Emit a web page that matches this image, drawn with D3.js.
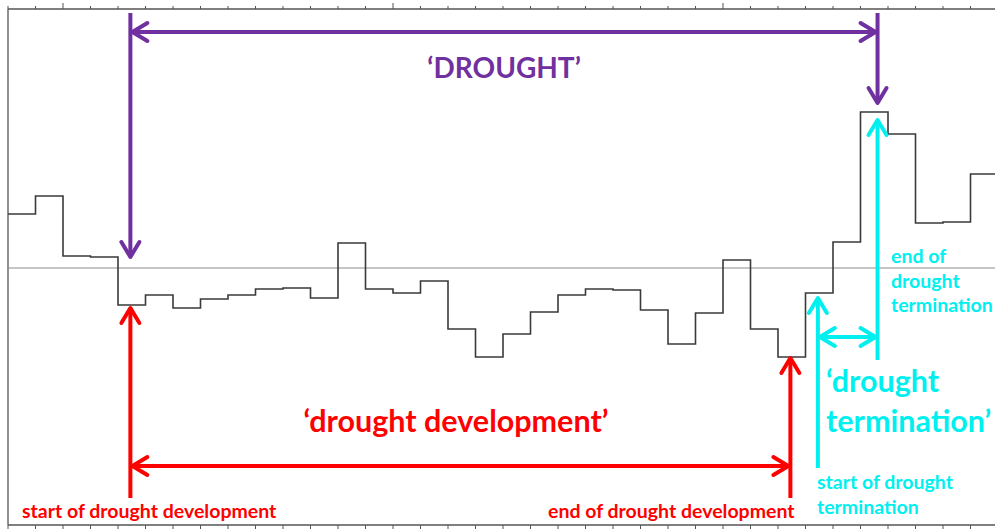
<!DOCTYPE html>
<html>
<head>
<meta charset="utf-8">
<script src="https://cdn.jsdelivr.net/npm/d3@7"></script>
<style>
  html, body { margin: 0; padding: 0; background: #fff; }
  svg { display: block; }
  text { font-family: Lato, "Open Sans", sans-serif; font-weight: bold; }
</style>
</head>
<body>
<svg id="chart" width="995" height="529"></svg>
<script>
// Monthly index values (36 months, step chart)
const months = d3.range(36);
const values = [0.54, 0.72, 0.12, 0.11, -0.37, -0.27, -0.40, -0.31, -0.27, -0.21, -0.20, -0.30,
                0.25, -0.21, -0.25, -0.13, -0.61, -0.89, -0.66, -0.44, -0.27, -0.21, -0.22, -0.42,
               -0.76, -0.45, 0.08, -0.61, -0.89, -0.25, 0.26, 1.56, 1.34, 0.45, 0.46, 0.94];
const majorTickMonths = [2, 14, 26];

// Annotation anchors (month position)
const droughtStart = 4.45, devEnd = 28.45, termStart = 29.45, droughtEnd = 31.62;

const svg = d3.select("#chart");
const x = d3.scaleLinear().domain([0, 36]).range([8, 998]);
const y = d3.scaleLinear().domain([-2.57, 2.59]).range([525, 9]);

// Frame
const frame = svg.append("g").attr("stroke", "#555").attr("stroke-width", 1.3).attr("fill", "none");
frame.append("line").attr("x1", x(0)).attr("x2", x(36)).attr("y1", y.range()[1]).attr("y2", y.range()[1]);
frame.append("line").attr("x1", x(0)).attr("x2", x(36)).attr("y1", y.range()[0]).attr("y2", y.range()[0]);
frame.append("line").attr("x1", x(0)).attr("x2", x(0)).attr("y1", y.range()[1]).attr("y2", y.range()[0]);

// Ticks (top going up, bottom going down)
const tickG = svg.append("g").attr("stroke", "#555").attr("stroke-width", 1);
d3.range(0, 37).forEach(i => {
  const len = majorTickMonths.includes(i) ? 6 : 3;
  tickG.append("line").attr("x1", x(i)).attr("x2", x(i)).attr("y1", y.range()[1]).attr("y2", y.range()[1] - len);
  tickG.append("line").attr("x1", x(i)).attr("x2", x(i)).attr("y1", y.range()[0]).attr("y2", y.range()[0] + 5);
});

// Zero line
svg.append("line").attr("x1", x(0)).attr("x2", x(36)).attr("y1", y(0)).attr("y2", y(0))
  .attr("stroke", "#8c8c8c").attr("stroke-width", 1.2);

// Step line
const stepData = months.map((m, i) => [m, values[i]]);
stepData.push([36, values[values.length - 1]]);
svg.append("path")
  .datum(stepData)
  .attr("fill", "none")
  .attr("stroke", "#3a3a3a")
  .attr("stroke-width", 1.6)
  .attr("d", d3.line().x(d => x(d[0])).y(d => y(d[1])).curve(d3.curveStepAfter));

// Arrow helpers
function seg(g, x1, y1, x2, y2, color) {
  g.append("line").attr("x1", x1).attr("y1", y1).attr("x2", x2).attr("y2", y2)
    .attr("stroke", color).attr("stroke-width", 4).attr("stroke-linecap", "butt");
}
function head(g, tx, ty, dir, color) {
  const L = 15, W = 9;
  let pts;
  if (dir === "down") pts = [[tx - W, ty - L], [tx, ty], [tx + W, ty - L]];
  if (dir === "up") pts = [[tx - W, ty + L], [tx, ty], [tx + W, ty + L]];
  if (dir === "left") pts = [[tx + L, ty - W], [tx, ty], [tx + L, ty + W]];
  if (dir === "right") pts = [[tx - L, ty - W], [tx, ty], [tx - L, ty + W]];
  g.append("path").attr("d", d3.line()(pts)).attr("fill", "none")
    .attr("stroke", color).attr("stroke-width", 4).attr("stroke-linecap", "round").attr("stroke-linejoin", "round");
}

const purple = "#7030a0", red = "#ff0000", cyan = "#00f0f0";
const ann = svg.append("g");

// Purple: DROUGHT
seg(ann, x(droughtStart), y(2.55), x(droughtStart), y(0.11), purple);
head(ann, x(droughtStart), y(0.11), "down", purple);
seg(ann, x(droughtEnd), y(2.55), x(droughtEnd), y(1.65), purple);
head(ann, x(droughtEnd), y(1.65), "down", purple);
seg(ann, x(droughtStart) + 2, y(2.36), x(droughtEnd) - 2, y(2.36), purple);
head(ann, x(droughtStart) + 2, y(2.36), "left", purple);
head(ann, x(droughtEnd) - 2, y(2.36), "right", purple);

// Red: drought development
seg(ann, x(droughtStart), y(-2.30), x(droughtStart), y(-0.40), red);
head(ann, x(droughtStart), y(-0.40), "up", red);
seg(ann, x(devEnd), y(-2.30), x(devEnd), y(-0.90), red);
head(ann, x(devEnd), y(-0.90), "up", red);
seg(ann, x(droughtStart) + 2, y(-1.98), x(devEnd) - 2, y(-1.98), red);
head(ann, x(droughtStart) + 2, y(-1.98), "left", red);
head(ann, x(devEnd) - 2, y(-1.98), "right", red);

// Cyan: drought termination
seg(ann, x(droughtEnd), y(-0.92), x(droughtEnd), y(1.48), cyan);
head(ann, x(droughtEnd), y(1.48), "up", cyan);
seg(ann, x(termStart), y(-2.00), x(termStart), y(-0.30), cyan);
head(ann, x(termStart), y(-0.30), "up", cyan);
seg(ann, x(termStart) + 2, y(-0.69), x(droughtEnd) - 2, y(-0.69), cyan);
head(ann, x(termStart) + 2, y(-0.69), "left", cyan);
head(ann, x(droughtEnd) - 2, y(-0.69), "right", cyan);

// Labels
const T = svg.append("g");
T.append("text").attr("x", x(18.04)).attr("y", 78).attr("text-anchor", "middle")
  .attr("fill", purple).attr("font-size", 28).text("\u2018DROUGHT\u2019");
T.append("text").attr("x", 456).attr("y", 432).attr("text-anchor", "middle")
  .attr("fill", red).attr("font-size", 30.5).text("\u2018drought development\u2019");
T.append("text").attr("x", 22).attr("y", 518).attr("fill", red).attr("font-size", 19.5)
  .text("start of drought development");
T.append("text").attr("x", 548).attr("y", 518).attr("fill", red).attr("font-size", 19.5)
  .text("end of drought development");

const endTerm = T.append("text").attr("fill", cyan).attr("font-size", 19.5);
["end of", "drought", "termination"].forEach((s, i) =>
  endTerm.append("tspan").attr("x", 891).attr("y", 263 + i * 24.5).text(s));

const bigTerm = T.append("text").attr("fill", cyan).attr("font-size", 30.5);
["\u2018drought", "termination\u2019"].forEach((s, i) =>
  bigTerm.append("tspan").attr("x", 826).attr("y", 392 + i * 40).text(s));

const startTerm = T.append("text").attr("fill", cyan).attr("font-size", 19.5);
["start of drought", "termination"].forEach((s, i) =>
  startTerm.append("tspan").attr("x", 817).attr("y", 489 + i * 25).text(s));
</script>
</body>
</html>
